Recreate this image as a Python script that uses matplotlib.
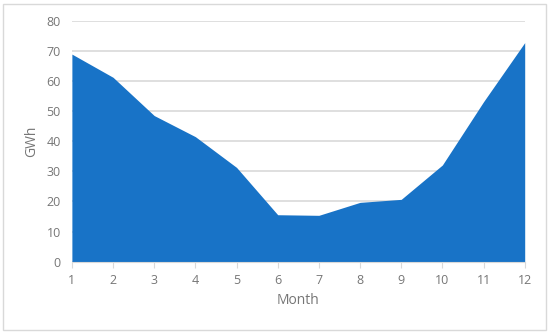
import matplotlib.pyplot as plt
from matplotlib.patches import Rectangle

months = [1, 2, 3, 4, 5, 6, 7, 8, 9, 10, 11, 12]
gwh = [68.9, 61.2, 48.5, 41.5, 31.3, 15.6, 15.4, 19.7, 20.7, 32.1, 53.1, 72.7]
yticks = [0, 10, 20, 30, 40, 50, 60, 70, 80]

plt.rcParams['font.family'] = ['Open Sans', 'DejaVu Sans']
grey = '#767676'

fig = plt.figure(figsize=(5.5, 3.33), dpi=100)
ax = fig.add_axes([0.1307, 0.214, 0.954 - 0.1307, 0.938 - 0.214])

ax.fill_between(months, gwh, 0, color='#1873C7', linewidth=0, zorder=3)

ax.set_xlim(1, 12)
ax.set_ylim(0, 80)
ax.set_xticks(months)
ax.set_yticks(yticks)
ax.grid(axis='y', color='#d9d9d9', linewidth=1.2, zorder=0)
for s in ['top', 'right', 'left']:
    ax.spines[s].set_visible(False)
ax.spines['bottom'].set_color('#d9d9d9')
ax.spines['bottom'].set_zorder(4)
ax.tick_params(axis='y', length=0, pad=8, labelsize=9, labelcolor=grey)
ax.tick_params(axis='x', length=4, color='#d9d9d9', pad=5, labelsize=9, labelcolor=grey)
ax.set_xlabel('Month', fontsize=10, color=grey, labelpad=4)
ax.set_ylabel('GWh', fontsize=10, color=grey, labelpad=5)

fig.patches.append(Rectangle((0.006, 0.01), 0.986, 0.978, transform=fig.transFigure,
                             fill=False, edgecolor='#d9d9d9', linewidth=1.0))

fig.savefig('out.png', dpi=100)
